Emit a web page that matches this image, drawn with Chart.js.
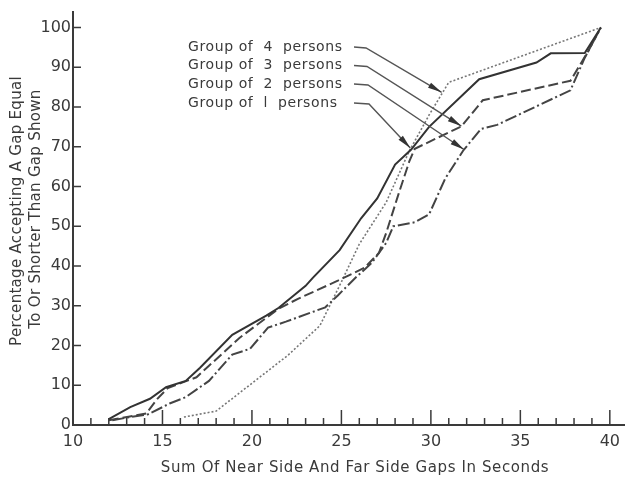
<!DOCTYPE html>
<html>
<head>
<meta charset="utf-8">
<script src="https://cdn.jsdelivr.net/npm/chart.js@4.4.1/dist/chart.umd.min.js"></script>
<style>
  html, body { margin: 0; padding: 0; background: #fff; }
</style>
</head>
<body>
<canvas id="gapChart" width="627" height="478"></canvas>
<script>
// gap acceptance curves, one per group size
const group1X = [12, 13.2, 14.3, 15.2, 16.3, 17.1, 18.9, 20.8, 21.5, 23, 23.4, 24.9, 26.1, 27, 28, 28.9, 29.9, 32.7, 35.9, 36.7, 38.6, 39.5];
const group1Y = [1.5, 4.5, 6.6, 9.5, 11.1, 14.4, 22.7, 27.5, 29.5, 35, 37, 44, 52, 57, 65.5, 69.3, 75, 87, 91.2, 93.5, 93.6, 100];

const group2X = [12.2, 13.2, 14.2, 15.4, 16.3, 17.6, 18.9, 19.9, 20.9, 21.9, 24.1, 24.8, 25.8, 26.7, 27.5, 27.9, 29.1, 29.9, 30.8, 31.8, 32.8, 33.7, 37.8, 38.6, 39.5];
const group2Y = [1.2, 2, 2.7, 5.4, 7, 11.1, 17.7, 19.2, 24.5, 26, 29.6, 32.6, 37.1, 40.8, 45.8, 50, 51, 53, 62, 69, 74.5, 75.5, 84.2, 92.4, 100];

const group3X = [12, 13.1, 14.1, 14.7, 15.3, 16.9, 17.6, 19.3, 21.5, 22.6, 24.8, 26.3, 27.1, 27.5, 28.2, 28.8, 29.1, 31.7, 32.9, 37.8, 38.8, 39.5];
const group3Y = [1.2, 2.1, 2.9, 6.5, 9.3, 12, 14.9, 21.9, 29.3, 31.8, 36.3, 39.6, 43.3, 48.3, 58.2, 66.4, 69.5, 75.1, 81.7, 86.6, 94.1, 100];

const group4X = [16.2, 18, 20, 22, 23.8, 25, 26, 27.5, 28.8, 29.9, 31, 39.5];
const group4Y = [2, 3.5, 10.5, 17.5, 25, 36, 45.5, 56, 69, 78, 86.2, 100];

// callout labels (top to bottom) and where their arrows land
const calloutLabels = ['Group of  4  persons', 'Group of  3  persons', 'Group of  2  persons', 'Group of  l  persons'];
const calloutTipX = [30.6, 31.7, 31.85, 28.85];
const calloutTipY = [83.7, 75.2, 69.3, 69.7];

const xTickValues = [];
for (let v = 10; v <= 40; v++) xTickValues.push(v);
const yTickValues = [0, 10, 20, 30, 40, 50, 60, 70, 80, 90, 100];

const yTitle = ['Percentage Accepting A Gap Equal', 'To Or Shorter Than Gap Shown'];
const xTitle = 'Sum Of Near Side And Far Side Gaps In Seconds';

const INK = '#3a3a3a';
const FONT = '"DejaVu Sans"';

function pts(xs, ys) {
  return xs.map((x, i) => ({ x: x, y: ys[i] }));
}

function line(label, xs, ys, dash, color, width) {
  return {
    label: label,
    data: pts(xs, ys),
    showLine: true,
    borderColor: color,
    borderWidth: width,
    borderDash: dash,
    pointRadius: 0,
    tension: 0,
    fill: false
  };
}

// axis ticks point up / right into the plot
const innerTicks = {
  id: 'innerTicks',
  afterDraw(chart) {
    const { ctx, chartArea, scales } = chart;
    ctx.save();
    ctx.strokeStyle = INK;
    ctx.lineWidth = 1.5;
    xTickValues.forEach(v => {
      if (v === 10) return;
      const px = scales.x.getPixelForValue(v);
      const len = v % 5 === 0 ? 15 : 7;
      ctx.beginPath();
      ctx.moveTo(px, chartArea.bottom);
      ctx.lineTo(px, chartArea.bottom - len);
      ctx.stroke();
    });
    yTickValues.forEach(v => {
      if (v === 0) return;
      const py = scales.y.getPixelForValue(v);
      ctx.beginPath();
      ctx.moveTo(chartArea.left - 1, py);
      ctx.lineTo(chartArea.left + 8, py);
      ctx.stroke();
    });
    ctx.restore();
  }
};

// axis titles and the arrowed callouts
const labelsPlugin = {
  id: 'labelsPlugin',
  afterDraw(chart) {
    const { ctx, scales } = chart;
    ctx.save();
    ctx.fillStyle = INK;
    ctx.textBaseline = 'middle';

    ctx.font = '15px ' + FONT;
    ctx.letterSpacing = '0.6px';
    ctx.textAlign = 'center';
    ctx.fillText(xTitle, 355, 468);

    ctx.letterSpacing = '0.3px';
    [[17, 211], [36, 209]].forEach((pos, i) => {
      ctx.save();
      ctx.translate(pos[0], pos[1]);
      ctx.rotate(-Math.PI / 2);
      ctx.fillText(yTitle[i], 0, 0);
      ctx.restore();
    });

    ctx.font = '14px ' + FONT;
    ctx.letterSpacing = '0.6px';
    ctx.textAlign = 'left';
    const rows = [47, 65.5, 84, 103];
    calloutLabels.forEach((text, i) => {
      const cy = rows[i];
      ctx.fillText(text, 188, cy);

      const tx = scales.x.getPixelForValue(calloutTipX[i]);
      const ty = scales.y.getPixelForValue(calloutTipY[i]);
      const kx = 366 + i;
      const ky = cy + 1;
      ctx.strokeStyle = '#555';
      ctx.lineWidth = 1.4;
      ctx.beginPath();
      ctx.moveTo(354, cy);
      ctx.lineTo(kx, ky);
      ctx.lineTo(tx, ty);
      ctx.stroke();

      // arrowhead
      const ang = Math.atan2(ty - ky, tx - kx);
      const L = 14, W = 3;
      ctx.fillStyle = '#333';
      ctx.beginPath();
      ctx.moveTo(tx, ty);
      ctx.lineTo(tx - L * Math.cos(ang) + W * Math.sin(ang), ty - L * Math.sin(ang) - W * Math.cos(ang));
      ctx.lineTo(tx - L * Math.cos(ang) - W * Math.sin(ang), ty - L * Math.sin(ang) + W * Math.cos(ang));
      ctx.closePath();
      ctx.fill();
      ctx.fillStyle = INK;
    });
    ctx.restore();
  }
};

new Chart(document.getElementById('gapChart'), {
  type: 'scatter',
  data: {
    datasets: [
      line('Group of 1 persons', group1X, group1Y, [], '#333', 2),
      line('Group of 2 persons', group2X, group2Y, [12, 3, 2, 3], '#444', 2),
      line('Group of 3 persons', group3X, group3Y, [10, 4], '#444', 2),
      line('Group of 4 persons', group4X, group4Y, [2, 2], '#777', 1.6)
    ]
  },
  options: {
    responsive: false,
    animation: false,
    layout: { padding: { top: 5, right: 0, bottom: 0, left: 0 } },
    plugins: {
      legend: { display: false },
      tooltip: { enabled: false }
    },
    scales: {
      x: {
        type: 'linear',
        min: 10,
        max: 40.83,
        afterBuildTicks: s => { s.ticks = xTickValues.map(v => ({ value: v })); },
        afterFit: s => { s.height = 53; },
        grid: { display: false, drawTicks: false },
        border: { display: true, color: INK, width: 2 },
        ticks: {
          autoSkip: false,
          maxRotation: 0,
          padding: 7,
          color: INK,
          font: { family: 'DejaVu Sans', size: 16 },
          callback: v => (v % 5 === 0 ? v : '')
        }
      },
      y: {
        min: 0,
        max: 104,
        afterBuildTicks: s => { s.ticks = yTickValues.map(v => ({ value: v })); },
        afterFit: s => { s.width = 73; },
        grid: { display: false, drawTicks: false },
        border: { display: true, color: INK, width: 2 },
        ticks: {
          padding: 2,
          color: INK,
          font: { family: 'DejaVu Sans', size: 16 }
        }
      }
    }
  },
  plugins: [innerTicks, labelsPlugin]
});
</script>
</body>
</html>
